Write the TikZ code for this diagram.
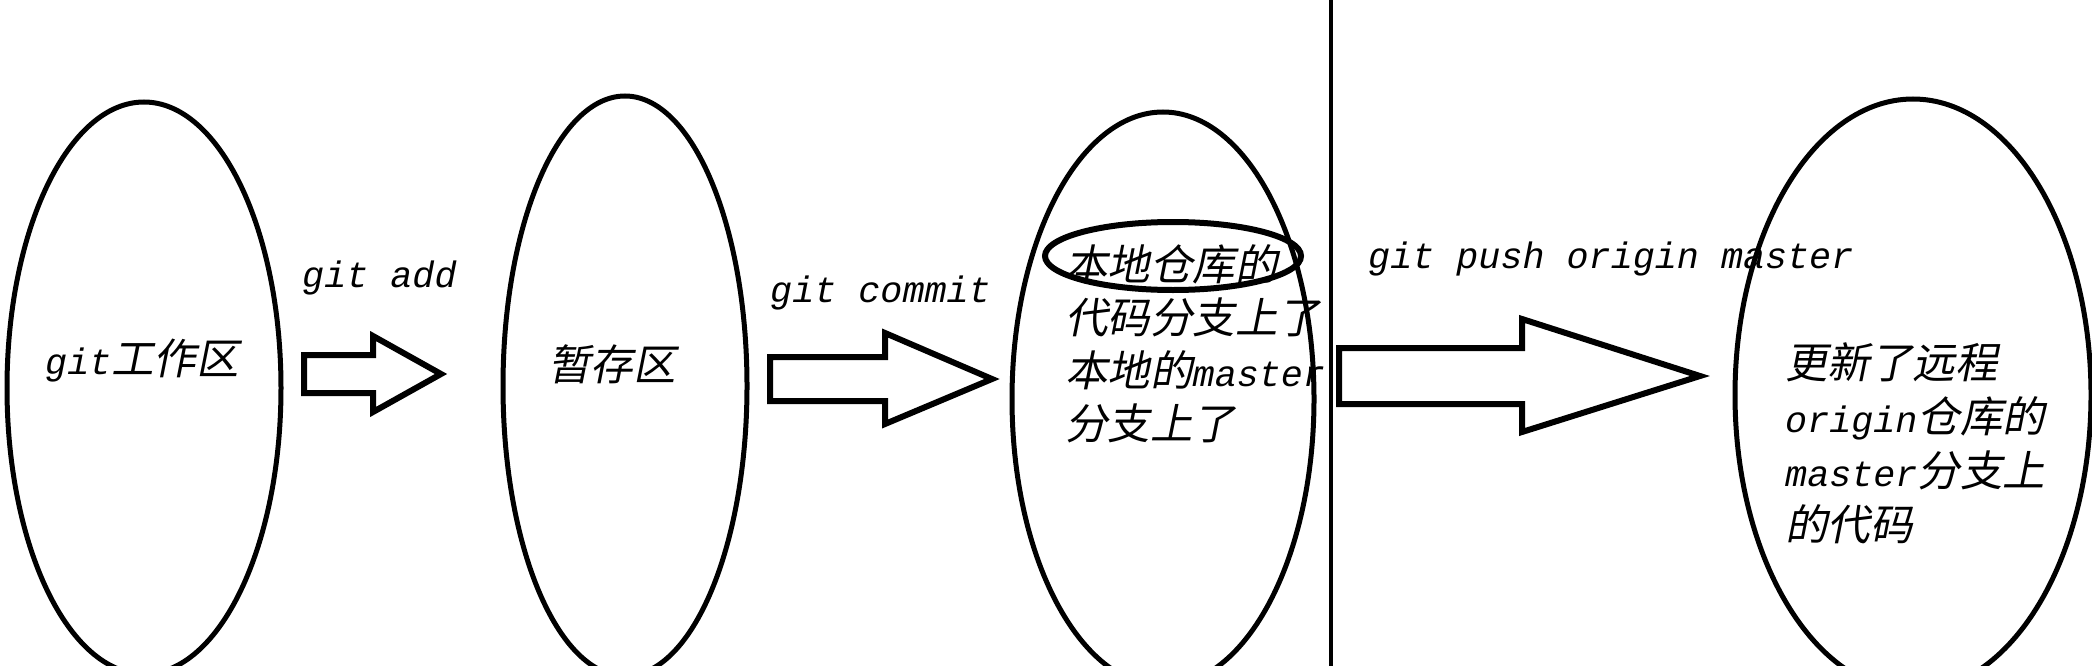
\documentclass[tikz,border=0pt]{standalone}
\usepackage{fontspec}
\setmainfont{Liberation Mono}
\newfontfamily\cjkf{Noto Sans CJK SC}[FakeSlant=0.2]
\usetikzlibrary{shapes.geometric}
\newcommand\gl[1]{{\fontsize{36.75pt}{53pt}\selectfont\itshape #1}}
\newcommand\gc[1]{{\cjkf\fontsize{42.5pt}{53pt}\selectfont #1}}
\begin{document}
\begin{tikzpicture}[x=1pt,y=-1pt,
  area/.style={draw=black,line width=5pt,ellipse,inner sep=0pt},
  blockarrow/.style={draw=black,line width=6pt,line join=miter,fill=white},
  lbl/.style={inner sep=0pt,anchor=base west,text=black}]
\useasboundingbox (0,0) rectangle (2092,666);
\fill[white] (0,0) rectangle (2092,666);
\begin{scope}
\clip (0,0) rectangle (2092,666);
% big ellipses
\node[area,minimum width=274pt,minimum height=572pt] (work) at (144,388) {};
\node[area,minimum width=244pt,minimum height=580pt] (stage) at (625,386) {};
\node[area,minimum width=302pt,minimum height=574pt] (local) at (1163,399) {};
\node[area,minimum width=356pt,minimum height=592pt] (remote) at (1913,395) {};
% small ellipse
\node[area,line width=6pt,minimum width=256pt,minimum height=68pt] (repo) at (1173,256) {};
% divider
\coordinate (divtop) at (1331,0);
\coordinate (divbot) at (1331,666);
\draw[line width=4.5pt] (divtop) -- (divbot);
% block arrows
\draw[blockarrow] (304,355) -- (373,355) -- (373,336) -- (441,374) -- (373,412) -- (373,393) -- (304,393) -- cycle;
\draw[blockarrow] (770,357) -- (885,357) -- (885,333) -- (992,379) -- (885,424) -- (885,401) -- (770,401) -- cycle;
\draw[blockarrow] (1339,348) -- (1522,348) -- (1522,319) -- (1700,376) -- (1522,432) -- (1522,404) -- (1339,404) -- cycle;
% labels
\node[lbl] (t1) at (45,374) {\gl{git}\gc{工作区}};
\node[lbl] (a1) at (302,287) {\gl{git add}};
\node[lbl] (t2) at (548,380) {\gc{暂存区}};
\node[lbl] (a2) at (770,302) {\gl{git commit}};
\node[lbl] (l1) at (1065,280) {\gc{本地仓库的}};
\node[lbl] (l2) at (1065,333) {\gc{代码分支上了}};
\node[lbl] (l3) at (1065,386) {\gc{本地的}\gl{master}};
\node[lbl] (l4) at (1065,439) {\gc{分支上了}};
\node[lbl] (a3) at (1368,268) {\gl{git push origin master}};
\node[lbl] (r1) at (1785,378) {\gc{更新了远程}};
\node[lbl] (r2) at (1785,432) {\gl{origin}\gc{仓库的}};
\node[lbl] (r3) at (1785,486) {\gl{master}\gc{分支上}};
\node[lbl] (r4) at (1785,540) {\gc{的代码}};
\end{scope}
\end{tikzpicture}
\end{document}
